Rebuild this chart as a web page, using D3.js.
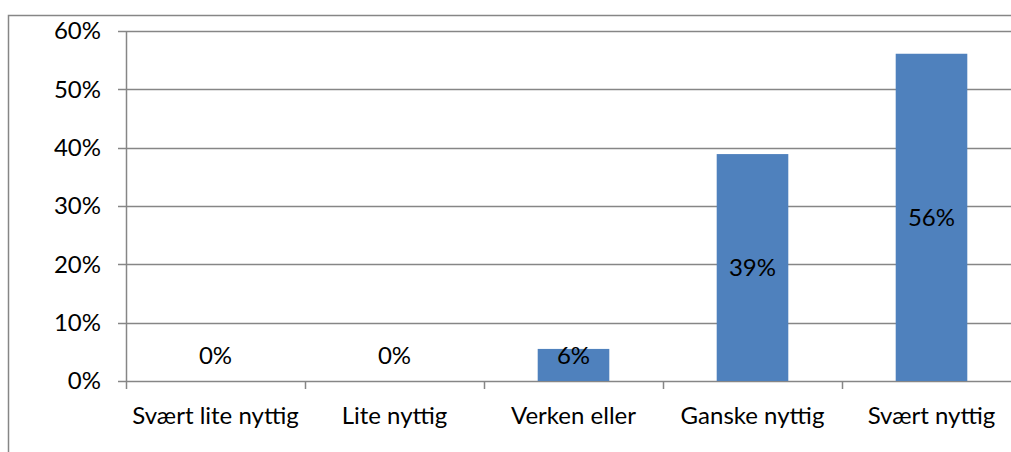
<!DOCTYPE html>
<html><head><meta charset="utf-8">
<script src="https://cdn.jsdelivr.net/npm/d3@7"></script>
<style>html,body{margin:0;padding:0;background:#fff;overflow:hidden}</style>
</head><body>
<svg id="c" width="1011" height="452"></svg>
<script>
const categories = ["Svært lite nyttig", "Lite nyttig", "Verken eller", "Ganske nyttig", "Svært nyttig"];
const values = [0, 0, 0.055, 0.389, 0.561];
const valueLabels = ["0%", "0%", "6%", "39%", "56%"];
const yTicks = [0, 0.1, 0.2, 0.3, 0.4, 0.5, 0.6];

(function () {
const svg = d3.select("#c");
const font = "Lato, 'Open Sans', sans-serif";
const fs = 24;
const pLeft = 126, pRight = 1021, pTop = 31, pBottom = 381;

// outer border
svg.append("rect").attr("x", 8.5).attr("y", 15.5).attr("width", 1100).attr("height", 500)
  .attr("fill", "none").attr("stroke", "#868686").attr("stroke-width", 1.5);

const x = d3.scaleBand().domain(categories).range([pLeft, pRight]).paddingInner(0).paddingOuter(0);
const y = d3.scaleLinear().domain([0, 0.6]).range([pBottom, pTop]);

// gridlines
svg.append("g").selectAll("line").data(yTicks).join("line")
  .attr("x1", pLeft - 8).attr("x2", pRight)
  .attr("y1", d => Math.round(y(d)) + 0.5).attr("y2", d => Math.round(y(d)) + 0.5)
  .attr("stroke", "#868686").attr("stroke-width", 1.5);

// y axis line
svg.append("line").attr("x1", pLeft + 0.5).attr("x2", pLeft + 0.5).attr("y1", pTop).attr("y2", pBottom + 8)
  .attr("stroke", "#868686").attr("stroke-width", 1.5);

// category ticks
svg.append("g").selectAll("line").data(categories).join("line")
  .attr("x1", (d, i) => Math.round(x(d) + x.bandwidth()) + 0.5)
  .attr("x2", (d, i) => Math.round(x(d) + x.bandwidth()) + 0.5)
  .attr("y1", pBottom).attr("y2", pBottom + 8)
  .attr("stroke", "#868686").attr("stroke-width", 1.5);

// y tick labels
svg.append("g").selectAll("text").data(yTicks).join("text")
  .attr("x", 101).attr("y", d => y(d)).attr("dy", "0.35em")
  .attr("text-anchor", "end").attr("font-family", font).attr("font-size", fs).attr("fill", "#000")
  .text(d3.format(".0%"));

// bars
const bw = x.bandwidth() * 0.4;
svg.append("g").selectAll("rect").data(values).join("rect")
  .attr("x", (d, i) => x(categories[i]) + (x.bandwidth() - bw) / 2)
  .attr("width", bw)
  .attr("y", d => y(d)).attr("height", d => y(0) - y(d))
  .attr("fill", "#4f81bd");

// value labels
svg.append("g").selectAll("text").data(values).join("text")
  .attr("x", (d, i) => x(categories[i]) + x.bandwidth() / 2)
  .attr("y", d => Math.min((y(d) + y(0)) / 2, y(0) - 25))
  .attr("dy", "0.35em").attr("text-anchor", "middle")
  .attr("font-family", font).attr("font-size", fs).attr("fill", "#000")
  .text((d, i) => valueLabels[i]);

// category labels
svg.append("g").selectAll("text").data(categories).join("text")
  .attr("x", d => x(d) + x.bandwidth() / 2).attr("y", 416).attr("dy", "0.35em")
  .attr("text-anchor", "middle").attr("font-family", font).attr("font-size", fs).attr("fill", "#000")
  .text(d => d);
})();
</script>
</body></html>
